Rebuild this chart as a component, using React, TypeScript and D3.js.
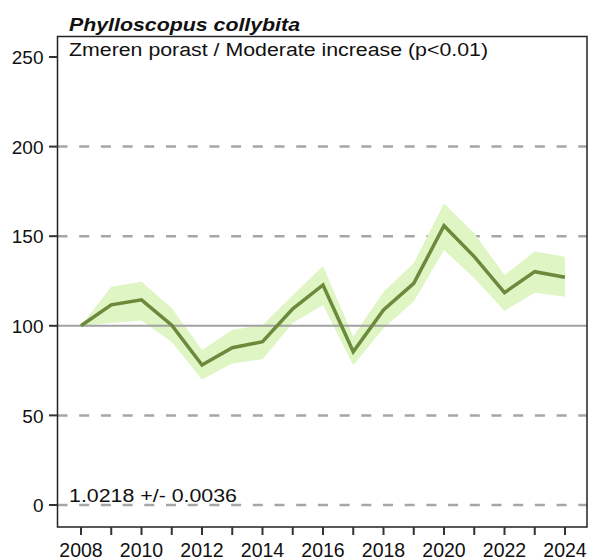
import React from "react";
import * as d3 from "d3";

const years = [2008, 2009, 2010, 2011, 2012, 2013, 2014, 2015, 2016, 2017, 2018, 2019, 2020, 2021, 2022, 2023, 2024];
const index = [100, 111.7, 114.5, 100.3, 78.1, 87.8, 91.1, 109.5, 122.8, 85.5, 108.8, 123.7, 155.8, 138.6, 118.5, 130.2, 127.1];
const upper = [100, 121.8, 124.6, 110, 86.5, 97.7, 100.4, 117, 133.4, 94, 119, 134.9, 168.2, 151.6, 128.3, 141.4, 138.6];
const lower = [100, 101.5, 103, 91, 70.1, 79, 81.4, 101.5, 111.6, 78, 98.6, 113.5, 142.3, 126.5, 108.4, 118.5, 116.2];
const yTicks = [0, 50, 100, 150, 200, 250];
const gridDashed = [0, 50, 150, 200];
const xTicks = [2008, 2010, 2012, 2014, 2016, 2018, 2020, 2022, 2024];
const title = "Phylloscopus collybita";
const subtitle = "Zmeren porast / Moderate increase (p<0.01)";
const slopeText = "1.0218 +/- 0.0036";

export default function App() {
  const W = 591, H = 559;
  const left = 57.5, right = 587, top = 36.5, bottom = 527;
  const x = d3.scaleLinear().domain([2008, 2024]).range([81, 565]);
  const y = d3.scaleLinear().domain([0, 250]).range([505, 57]);
  const font = "'Liberation Sans', Arial, sans-serif";

  const band = d3.area<number>()
    .x((_, i) => x(years[i]))
    .y0((_, i) => y(lower[i]))
    .y1((_, i) => y(upper[i]))(index) || "";
  const line = d3.line<number>()
    .x((_, i) => x(years[i]))
    .y((d) => y(d))(index) || "";

  return (
    <svg width={W} height={H} style={{ position: "absolute", left: 0, top: 0 }} fontFamily={font}>
      <rect x={0} y={0} width={W} height={H} fill="#ffffff" />
      {gridDashed.map((v) => (
        <line key={v} x1={left} x2={right} y1={y(v)} y2={y(v)} stroke="#a6a6a6" strokeWidth={2.5} strokeDasharray="10,11.7" />
      ))}
      <path d={band} fill="#dff5c4" stroke="none" />
      <line x1={left} x2={right} y1={y(100)} y2={y(100)} stroke="#a0a0a0" strokeWidth={2} />
      <path d={line} fill="none" stroke="#6b8a3c" strokeWidth={3.5} strokeLinejoin="miter" />
      <rect x={left} y={top} width={right - left} height={bottom - top} fill="none" stroke="#222" strokeWidth={1.5} />
      {yTicks.map((v) => (
        <g key={v}>
          <line x1={49} x2={left} y1={y(v)} y2={y(v)} stroke="#333" strokeWidth={2} />
          <text x={43.5} y={y(v)} dy="0.38em" textAnchor="end" fontSize={19} fill="#111">{v}</text>
        </g>
      ))}
      {years.map((yr) => (
        <line key={yr} x1={x(yr)} x2={x(yr)} y1={bottom} y2={535} stroke="#333" strokeWidth={2} />
      ))}
      {xTicks.map((yr) => (
        <text key={yr} x={x(yr)} y={556.5} textAnchor="middle" fontSize={19.5} fill="#111">{yr}</text>
      ))}
      <text x={69} y={30.7} fontSize={18} fontWeight="bold" fontStyle="italic" fill="#111" textLength={231} lengthAdjust="spacingAndGlyphs">{title}</text>
      <text x={69} y={55.7} fontSize={18} fill="#111" textLength={419} lengthAdjust="spacingAndGlyphs">{subtitle}</text>
      <text x={69} y={502} fontSize={18} fill="#111" textLength={168} lengthAdjust="spacingAndGlyphs">{slopeText}</text>
    </svg>
  );
}
